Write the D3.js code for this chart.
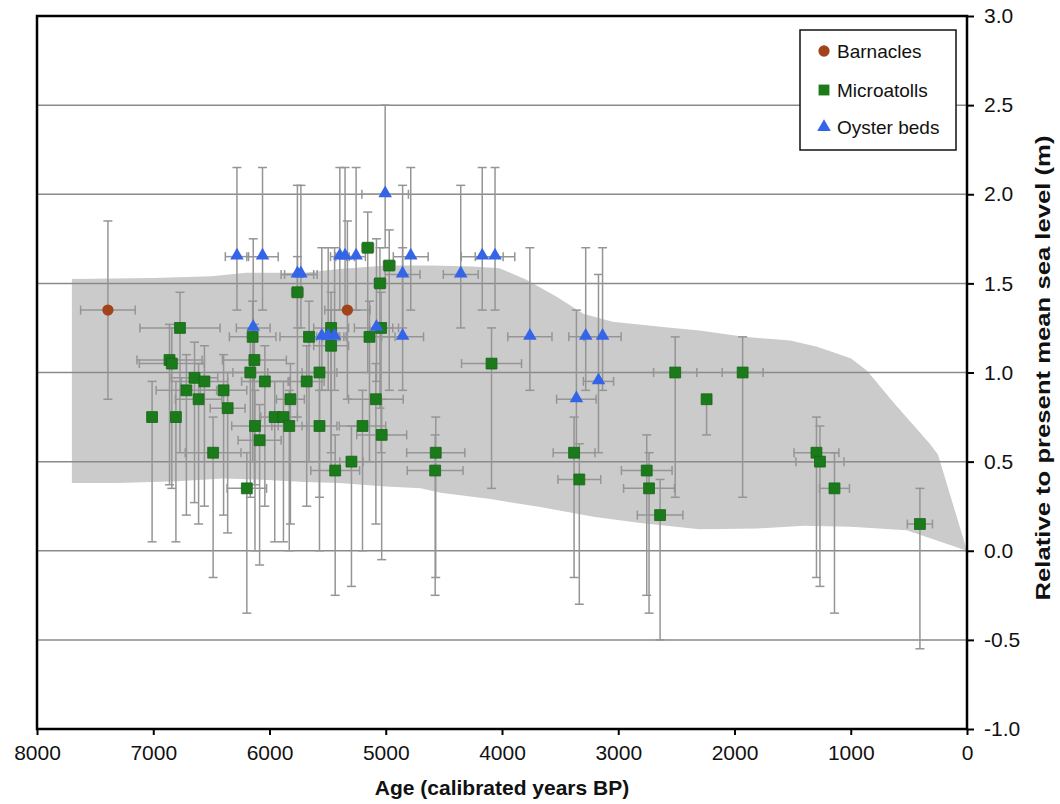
<!DOCTYPE html>
<html>
<head>
<meta charset="utf-8">
<style>
  body { margin: 0; background: #fff; }
  text { font-family: "Liberation Sans", Arial, sans-serif; }
</style>
</head>
<body>
<div id="vis"></div>
<script src="https://d3js.org/d3.v7.min.js"></script>
<script>
    // ---- data (age in calibrated years BP, level in m) ----
    let barnAge      = [7390, 5330];
    let barnLevel    = [1.35, 1.35];
    let barnAgeErr   = [235, 195];
    let barnErrUp    = [0.5, 0.5];
    let barnErrDown  = [0.5, 0.5];

    let microAge = [7010, 6860, 6840, 6805, 6770, 6715, 6645, 6610, 6560, 6485,
                    6395, 6360, 6195, 6165, 6145, 6130, 6125, 6085, 6040, 5955,
                    5880, 5830, 5820, 5760, 5680, 5660, 5570, 5570, 5470, 5470,
                    5435, 5295, 5200, 5155, 5140, 5085, 5050, 5040, 5035, 4970,
                    4570, 4575, 4090, 3380, 3335, 2755, 2735, 2640, 2510, 2240,
                    1930, 1295, 1265, 1140, 405];
    let microLevel = [0.75, 1.07, 1.05, 0.75, 1.25, 0.90, 0.97, 0.85, 0.95, 0.55,
                      0.90, 0.80, 0.35, 1.00, 1.20, 1.07, 0.70, 0.62, 0.95, 0.75,
                      0.75, 0.70, 0.85, 1.45, 0.95, 1.20, 1.00, 0.70, 1.25, 1.15,
                      0.45, 0.50, 0.70, 1.70, 1.20, 0.85, 1.50, 1.25, 0.65, 1.60,
                      0.55, 0.45, 1.05, 0.55, 0.40, 0.45, 0.35, 0.20, 1.00, 0.85,
                      1.00, 0.55, 0.50, 0.35, 0.15];
    let microAgeErr = [30, 280, 280, 30, 345, 260, 200, 200, 200, 240,
                       200, 150, 170, 150, 200, 275, 200, 185, 200, 120,
                       120, 150, 120, 50, 150, 250, 150, 150, 150, 150,
                       210, 100, 200, 50, 220, 235, 50, 100, 215, 50,
                       250, 240, 258, 180, 184, 218, 219, 196, 186, 30,
                       176, 193, 207, 129, 108];
    let microErrUp   = microAge.map((a, i) => i === 49 ? 0.0 : 0.2);
    let microErrDown = microAge.map((a, i) => i === 49 ? 0.2 : 0.7);

    let oysterAge = [6280, 6060, 5760, 5730, 6140, 5550, 5495, 5440, 5395, 5350,
                     5255, 5080, 5005, 4855, 4855, 4785, 4355, 4170, 4060, 3760,
                     3280, 3135, 3170, 3360];
    let oysterLevel = [1.65, 1.65, 1.55, 1.55, 1.25, 1.20, 1.20, 1.20, 1.65, 1.65,
                       1.65, 1.25, 2.00, 1.55, 1.20, 1.65, 1.55, 1.65, 1.65, 1.20,
                       1.20, 1.20, 0.95, 0.85];
    let oysterAgeErr = [100, 135, 140, 140, 145, 100, 100, 100, 80, 80,
                        80, 190, 200, 150, 180, 150, 150, 180, 170, 190,
                        145, 160, 130, 170];
    let oysterErrUp   = oysterAge.map((a, i) => i === 22 ? 0.6 : 0.5);
    let oysterErrDown = oysterAge.map((a, i) => i === 22 ? 0.4 : 0.3);

    // envelope (grey band)
    let bandUpper = [[7700, 1.525], [7000, 1.53], [6500, 1.54], [6200, 1.56], [5700, 1.56],
                     [5400, 1.58], [5000, 1.6], [4600, 1.6], [4250, 1.595], [4020, 1.585],
                     [3790, 1.52], [3530, 1.425], [3300, 1.33], [3050, 1.285], [2530, 1.25],
                     [2300, 1.235], [1920, 1.2], [1520, 1.18], [1290, 1.145], [1000, 1.08],
                     [860, 1.01], [630, 0.83], [320, 0.6], [250, 0.54], [0, 0]];
    let bandLower = [[7700, 0.38], [7300, 0.38], [6800, 0.39], [6400, 0.405], [6100, 0.4],
                     [5700, 0.385], [5400, 0.38], [5000, 0.36], [4700, 0.35], [4530, 0.325],
                     [4100, 0.29], [3670, 0.245], [3200, 0.19], [2810, 0.155], [2300, 0.12],
                     [1800, 0.125], [1400, 0.14], [1000, 0.135], [520, 0.115], [0, 0]];

    let xTicks = [8000, 7000, 6000, 5000, 4000, 3000, 2000, 1000, 0];
    let yTicks = [-1.0, -0.5, 0.0, 0.5, 1.0, 1.5, 2.0, 2.5, 3.0];
    let gridVals = [-0.5, 0.0, 0.5, 1.0, 1.5, 2.0, 2.5];

    // ---- layout ----
    let W = 1060, H = 804;
    let plotL = 37, plotR = 967, plotT = 16, plotB = 729;

    let svg = d3.select("#vis").append("svg")
        .attr("width", W).attr("height", H);

    let x = d3.scaleLinear().domain([8000, 0]).range([plotL, plotR]);
    let y = d3.scaleLinear().domain([-1, 3]).range([plotB, plotT]);

    // band
    let bandPts = bandUpper.concat(bandLower.slice().reverse());
    svg.append("path")
        .attr("d", d3.line().x(d => x(d[0])).y(d => y(d[1]))(bandPts) + "Z")
        .attr("fill", "#cbcbcb");

    // gridlines
    svg.append("g").selectAll("line").data(gridVals).enter().append("line")
        .attr("x1", plotL).attr("x2", plotR)
        .attr("y1", d => y(d)).attr("y2", d => y(d))
        .attr("stroke", "#8a8a8a").attr("stroke-width", 1.5);

    function series(ages, levels, aErr, up, down) {
        return ages.map((a, i) => ({age: a, level: levels[i], ae: aErr[i], up: up[i], down: down[i]}));
    }
    let barn = series(barnAge, barnLevel, barnAgeErr, barnErrUp, barnErrDown);
    let micro = series(microAge, microLevel, microAgeErr, microErrUp, microErrDown);
    let oyster = series(oysterAge, oysterLevel, oysterAgeErr, oysterErrUp, oysterErrDown);
    let all = micro.concat(oyster).concat(barn);

    // error bars
    let eb = svg.append("g").attr("stroke", "#959595").attr("stroke-width", 1.5);
    let cap = 4.5;
    all.forEach(function (d) {
        let cx = x(d.age), cy = y(d.level);
        let yHi = y(d.level + d.up), yLo = y(d.level - d.down);
        if (d.up + d.down > 0) {
            eb.append("line").attr("x1", cx).attr("x2", cx).attr("y1", yHi).attr("y2", yLo);
            if (d.up > 0) eb.append("line").attr("x1", cx - cap).attr("x2", cx + cap).attr("y1", yHi).attr("y2", yHi);
            if (d.down > 0) eb.append("line").attr("x1", cx - cap).attr("x2", cx + cap).attr("y1", yLo).attr("y2", yLo);
        }
        if (d.ae > 0) {
            let xl = x(d.age + d.ae), xr = x(d.age - d.ae);
            eb.append("line").attr("x1", xl).attr("x2", xr).attr("y1", cy).attr("y2", cy);
            eb.append("line").attr("x1", xl).attr("x2", xl).attr("y1", cy - cap).attr("y2", cy + cap);
            eb.append("line").attr("x1", xr).attr("x2", xr).attr("y1", cy - cap).attr("y2", cy + cap);
        }
    });

    let green = "#1b7b1b", blue = "#3465e8", brown = "#a3431c";
    let sq = d3.symbol().type(d3.symbolSquare).size(118);
    let tri = d3.symbol().type(d3.symbolTriangle).size(80);
    let circ = d3.symbol().type(d3.symbolCircle).size(100);

    svg.append("g").selectAll("path").data(micro).enter().append("path")
        .attr("d", sq)
        .attr("transform", d => "translate(" + x(d.age) + "," + y(d.level) + ")")
        .attr("fill", green).attr("stroke", "#156515").attr("stroke-width", 0.8);

    svg.append("g").selectAll("path").data(oyster).enter().append("path")
        .attr("d", tri)
        .attr("transform", d => "translate(" + x(d.age) + "," + (y(d.level) - 1) + ")")
        .attr("fill", blue);

    svg.append("g").selectAll("path").data(barn).enter().append("path")
        .attr("d", circ)
        .attr("transform", d => "translate(" + x(d.age) + "," + y(d.level) + ")")
        .attr("fill", brown);

    // frame
    svg.append("rect")
        .attr("x", plotL).attr("y", plotT)
        .attr("width", plotR - plotL).attr("height", plotB - plotT)
        .attr("fill", "none").attr("stroke", "#000").attr("stroke-width", 2.5);

    // x axis
    let xAxis = d3.axisBottom(x).tickValues(xTicks).tickSize(6).tickPadding(10).tickFormat(d3.format("d"));
    let gx = svg.append("g").attr("transform", "translate(0," + plotB + ")").call(xAxis);
    gx.select(".domain").remove();
    gx.selectAll(".tick line").attr("stroke", "#000").attr("stroke-width", 2);
    gx.selectAll(".tick text").attr("font-size", 21).attr("fill", "#111")
        .attr("font-family", "'Liberation Sans', Arial, sans-serif");

    // y axis on the right (plain hyphen for negatives, like the original)
    let yAxis = d3.axisRight(y).tickValues(yTicks).tickSize(7).tickPadding(10)
        .tickFormat(d => d3.format(".1f")(d).replace("\u2212", "-"));
    let gy = svg.append("g").attr("transform", "translate(" + plotR + ",0)").call(yAxis);
    gy.select(".domain").remove();
    gy.selectAll(".tick line").attr("stroke", "#000").attr("stroke-width", 2);
    gy.selectAll(".tick text").attr("font-size", 21).attr("fill", "#111")
        .attr("font-family", "'Liberation Sans', Arial, sans-serif");

    // axis titles
    svg.append("text")
        .attr("x", (plotL + plotR) / 2).attr("y", 795)
        .attr("text-anchor", "middle")
        .attr("font-size", 21).attr("font-weight", "bold").attr("fill", "#111")
        .text("Age (calibrated years BP)");

    svg.append("text")
        .attr("transform", "translate(1050," + 368 + ") rotate(-90)")
        .attr("text-anchor", "middle")
        .attr("font-size", 21).attr("font-weight", "bold").attr("fill", "#111")
        .attr("textLength", 465).attr("lengthAdjust", "spacingAndGlyphs")
        .text("Relative to present mean sea level (m)");

    // legend
    let lg = svg.append("g");
    lg.append("rect").attr("x", 800).attr("y", 30).attr("width", 156).attr("height", 120)
        .attr("fill", "#fff").attr("stroke", "#111").attr("stroke-width", 1.5);
    let items = [
        {label: "Barnacles", sym: circ, color: brown, cy: 51},
        {label: "Microatolls", sym: sq, color: green, cy: 90},
        {label: "Oyster beds", sym: tri, color: blue, cy: 127}
    ];
    items.forEach(function (it) {
        lg.append("path").attr("d", it.sym)
            .attr("transform", "translate(824," + it.cy + ")")
            .attr("fill", it.color);
        lg.append("text").attr("x", 837).attr("y", it.cy + 7)
            .attr("font-size", 19).attr("fill", "#111").text(it.label);
    });
</script>
</body>
</html>
